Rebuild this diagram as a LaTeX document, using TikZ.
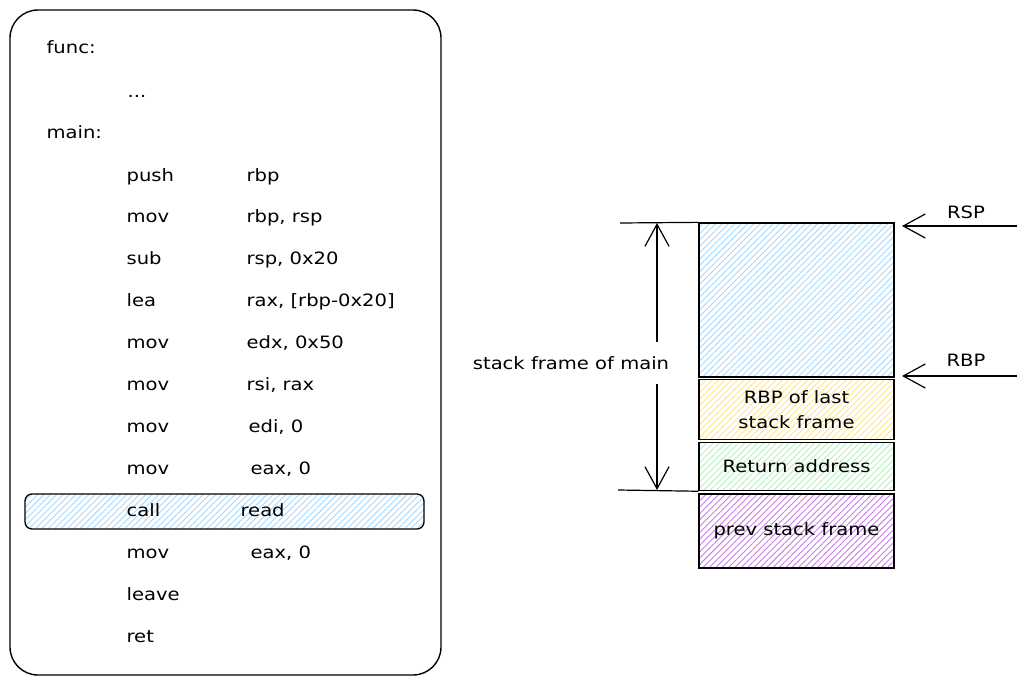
\documentclass[tikz,border=0pt]{standalone}
\usepackage{fontspec}
\setmainfont{DejaVu Sans}[FakeStretch=1.15]
\usepackage{xcolor}
\usepackage{tikz}
\usetikzlibrary{arrows.meta}
\usetikzlibrary{patterns.meta}
\usetikzlibrary{positioning}

\definecolor{hblue}{HTML}{A5D8FF}
\definecolor{hyellow}{HTML}{FFE58A}
\definecolor{hgreen}{HTML}{B2F2BB}
\definecolor{hpurple}{HTML}{C97CEB}

\begin{document}
\begin{tikzpicture}[x=1pt,y=-1pt,>={Straight Barb[length=22pt,width=24pt]},line width=1.2pt,font=\fontsize{17}{20}\selectfont]
	\tikzstyle{code}=[anchor=base west, inner sep=0pt]
	\tikzstyle{hatch}=[pattern={Lines[angle=45,distance=4.5pt,line width=0.9pt]}]
	\tikzstyle{slot}=[draw, line width=1.3pt, hatch, minimum width=195pt, inner sep=0pt, align=center, font=\fontsize{17}{25}\selectfont]
	\useasboundingbox (0,0) rectangle (1027,685);
	% listing
	\node[draw, line width=1.4pt, rounded corners=28pt, minimum width=431pt, minimum height=665pt] (listing) at (225.5,342.5) {};
	\node[draw, line width=1.3pt, rounded corners=7pt, hatch, pattern color=hblue, minimum width=399pt, minimum height=35pt] (hl) at (224.5,511.5) {};
	\node[code] (func) at (46,54) {func:};
	\node[code] (dots) at (127,97) {...};
	\node[code] (main) at (46,138) {main:};
	\foreach \y/\ins/\x/\ops [count=\i] in {181/push/246/rbp, 222/mov/246/{rbp, rsp}, 264/sub/246/{rsp, 0x20}, 306/lea/246/{rax, [rbp-0x20]}, 348/mov/246/{edx, 0x50}, 390/mov/246/{rsi, rax}, 432/mov/248/{edi, 0}, 474/mov/250/{eax, 0}, 516/call/240/read, 558/mov/250/{eax, 0}}
	{
		\node[code] (ins\i) at (126,\y) {\ins};
		\node[code] (ops\i) at (\x,\y) {\ops};
	}
	\node[code] (leave) at (126,600) {leave};
	\node[code] (ret) at (126,642) {ret};
	% stack
	\node[slot, pattern color=hblue, minimum height=154pt] (frame) at (796.5,300) {};
	\node[slot, pattern color=hyellow, minimum height=60pt] (oldrbp) [below=1pt of frame] {RBP of last\\stack frame};
	\node[slot, pattern color=hgreen, minimum height=48pt] (retaddr) [below=2pt of oldrbp] {Return address};
	\node[slot, pattern color=hpurple, minimum height=74pt] (prev) [below=2pt of retaddr] {prev stack frame};
	% extent of the frame
	\coordinate (ttick) at (620,223);
	\coordinate (btick) at (618,490);
	\coordinate (ftop) at (657,223);
	\coordinate (fbot) at (657,490);
	\draw (ttick) -- (frame.north west);
	\draw (btick) -- (retaddr.south west);
	\draw[<->] (ftop) -- (fbot);
	\node[fill=white, inner xsep=2pt, inner ysep=14pt] (flabel) at (571,363) {stack frame of main};
	% registers
	\coordinate (rspfrom) at (1017,226);
	\coordinate (rspto) at (902,226);
	\coordinate (rbpfrom) at (1017,376);
	\coordinate (rbpto) at (902,376);
	\draw[->] (rspfrom) -- (rspto);
	\draw[->] (rbpfrom) -- (rbpto);
	\node (rsp) at (966,212) {RSP};
	\node (rbp) at (966,360) {RBP};
\end{tikzpicture}
\end{document}
